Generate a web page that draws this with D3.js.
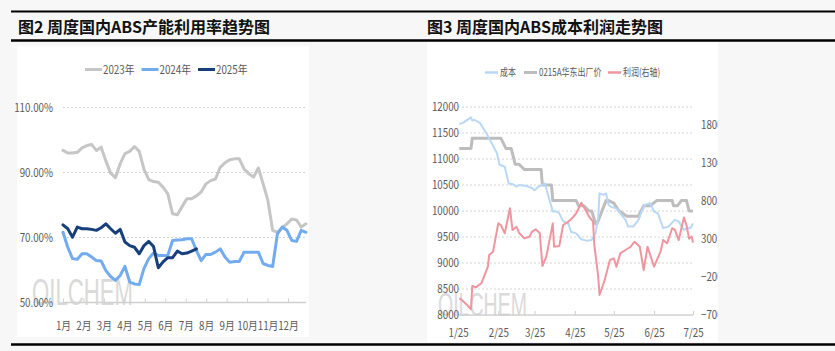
<!DOCTYPE html>
<html>
<head>
<meta charset="utf-8">
<script src="https://cdn.jsdelivr.net/npm/d3@7"></script>
<style>
body { margin: 0; background: #f7f7f7; }
svg text { font-family: "Noto Sans CJK SC", "Noto Sans", sans-serif; }
</style>
</head>
<body>
<svg id="chart" width="835" height="351"></svg>
<script>
// ---- left chart data: weekly ABS utilisation (%) ----
const months = ["1月", "2月", "3月", "4月", "5月", "6月", "7月", "8月", "9月", "10月", "11月", "12月"];
const pctTicks = [50, 70, 90, 110];
const years = ["2023年", "2024年", "2025年"];
const util2023 = [96.8, 96.0, 96.0, 96.2, 97.6, 98.3, 98.6, 96.8, 97.8, 93.5, 89.8, 88.4, 92.7, 95.8, 96.5, 98.0,
	96.5, 91.0, 87.8, 87.2, 87.0, 85.5, 83.4, 77.3, 77.0, 79.5, 81.9, 81.9, 82.8, 84.0, 86.5, 87.5, 88.0, 91.6,
	93.0, 93.9, 94.2, 94.2, 91.1, 89.6, 88.6, 91.4, 86.5, 81.4, 72.2, 71.6, 73.0, 74.2, 75.7, 75.4, 73.2, 74.2];
const util2024 = [71.6, 67.0, 63.5, 63.3, 65.0, 65.0, 64.0, 62.9, 62.8, 59.8, 58.0, 56.8, 58.3, 61.1, 56.3, 55.7,
	55.5, 60.5, 63.5, 65.2, 64.5, 64.5, 64.5, 69.1, 69.2, 69.3, 69.6, 69.6, 66.0, 62.9, 64.8, 64.8, 65.5, 66.5,
	64.0, 62.4, 62.6, 62.6, 65.5, 65.5, 65.5, 65.5, 62.0, 61.4, 61.1, 71.1, 73.2, 72.2, 69.1, 68.8, 72.2, 71.6];
const util2025 = [73.9, 72.7, 70.1, 73.2, 72.7, 72.7, 72.5, 72.2, 73.0, 74.2, 72.7, 71.3, 72.5, 68.6, 67.5, 67.0,
	65.0, 67.5, 68.8, 67.2, 60.7, 62.5, 63.8, 63.8, 65.8, 65.0, 65.2, 65.8, 66.5];

// ---- right chart data: cost, ex-works price (left axis), profit (right axis) ----
const seriesNames = ["成本", "0215A华东出厂价", "利润(右轴)"];
const priceTicks = [8000, 8500, 9000, 9500, 10000, 10500, 11000, 11500, 12000];
const profitTicks = [-700, -200, 300, 800, 1300, 1800];
const monthStarts = ["2025-01-01", "2025-02-01", "2025-03-01", "2025-04-01", "2025-05-01", "2025-06-01", "2025-07-01"];
const costSeries = [
	["2025-01-02", 11670], ["2025-01-05", 11700], ["2025-01-11", 11800], ["2025-01-12", 11740], ["2025-01-14", 11750],
	["2025-01-18", 11690], ["2025-01-23", 11490], ["2025-01-27", 11300], ["2025-01-31", 11110], ["2025-02-02", 10890],
	["2025-02-06", 10850], ["2025-02-09", 10530], ["2025-02-12", 10520], ["2025-02-15", 10470], ["2025-02-17", 10500],
	["2025-02-23", 10480], ["2025-02-27", 10440], ["2025-03-01", 10400], ["2025-03-04", 10470], ["2025-03-07", 10500],
	["2025-03-09", 10530], ["2025-03-11", 10340], ["2025-03-14", 10080], ["2025-03-15", 9990], ["2025-03-18", 9990],
	["2025-03-20", 9955], ["2025-03-23", 9800], ["2025-03-27", 9760], ["2025-03-29", 9600], ["2025-04-02", 9570],
	["2025-04-06", 9455], ["2025-04-10", 9430], ["2025-04-14", 9440], ["2025-04-17", 9570], ["2025-04-19", 9890],
	["2025-04-20", 10340], ["2025-04-23", 10310], ["2025-04-25", 10340], ["2025-04-27", 10115], ["2025-04-29", 10080],
	["2025-05-03", 10050], ["2025-05-06", 9955], ["2025-05-10", 9830], ["2025-05-12", 9700], ["2025-05-16", 9700],
	["2025-05-20", 9830], ["2025-05-23", 10020], ["2025-05-25", 10115], ["2025-05-29", 10150], ["2025-06-01", 9990],
	["2025-06-04", 9955], ["2025-06-08", 9670], ["2025-06-12", 9700], ["2025-06-17", 9830], ["2025-06-20", 9800],
	["2025-06-24", 9635], ["2025-06-26", 9670], ["2025-06-29", 9670], ["2025-07-01", 9760]
];
const priceSeries = [
	["2025-01-02", 11200], ["2025-01-11", 11200], ["2025-01-12", 11400], ["2025-02-03", 11400], ["2025-02-07", 11200],
	["2025-02-11", 11200], ["2025-02-14", 10900], ["2025-02-17", 10900], ["2025-02-21", 10800], ["2025-03-06", 10800],
	["2025-03-07", 10500], ["2025-03-14", 10500], ["2025-03-15", 10200], ["2025-04-02", 10200], ["2025-04-04", 10100],
	["2025-04-08", 10100], ["2025-04-12", 10000], ["2025-04-14", 10000], ["2025-04-17", 9750], ["2025-04-18", 9750],
	["2025-04-25", 10200], ["2025-04-27", 10200], ["2025-05-01", 10150], ["2025-05-05", 10000], ["2025-05-08", 9950],
	["2025-05-11", 9900], ["2025-05-20", 9900], ["2025-05-24", 10100], ["2025-05-29", 10100], ["2025-06-03", 10200],
	["2025-06-15", 10200], ["2025-06-16", 10100], ["2025-06-19", 10100], ["2025-06-22", 10200], ["2025-06-26", 10200],
	["2025-06-28", 10000], ["2025-07-01", 10000]
];
const profitSeries = [
	["2025-01-02", -481], ["2025-01-04", -503], ["2025-01-08", -569], ["2025-01-11", -625], ["2025-01-12", -319],
	["2025-01-15", -336], ["2025-01-17", -306], ["2025-01-19", -284], ["2025-01-22", -153], ["2025-01-24", -66],
	["2025-01-25", 87], ["2025-01-28", 131], ["2025-02-01", 503], ["2025-02-03", 481], ["2025-02-06", 372],
	["2025-02-10", 700], ["2025-02-12", 415], ["2025-02-15", 459], ["2025-02-17", 380], ["2025-02-21", 306],
	["2025-02-25", 328], ["2025-02-27", 393], ["2025-03-02", 424], ["2025-03-05", 372], ["2025-03-07", -57],
	["2025-03-10", 65], ["2025-03-15", 503], ["2025-03-16", 196], ["2025-03-20", 206], ["2025-03-23", 481],
	["2025-03-27", 525], ["2025-03-31", 590], ["2025-04-02", 634], ["2025-04-06", 774], ["2025-04-10", 656],
	["2025-04-12", 590], ["2025-04-15", 525], ["2025-04-16", 219], ["2025-04-19", -197], ["2025-04-20", -438],
	["2025-04-24", -241], ["2025-04-28", 22], ["2025-05-01", 44], ["2025-05-03", -66], ["2025-05-06", 109],
	["2025-05-10", 153], ["2025-05-14", 196], ["2025-05-17", 262], ["2025-05-21", 196], ["2025-05-24", -109],
	["2025-05-27", 196], ["2025-06-01", -66], ["2025-06-06", 131], ["2025-06-08", 284], ["2025-06-11", 241],
	["2025-06-15", 438], ["2025-06-17", 420], ["2025-06-20", 284], ["2025-06-24", 580], ["2025-06-26", 480],
	["2025-06-28", 300], ["2025-06-30", 330], ["2025-07-01", 250]
];

const labelColor = "#595959";
const gridColor = "#d4d4d4";
const squeeze = "scale(0.85,1)";

var svg = d3.select("#chart");
var parse = d3.timeParse("%Y-%m-%d");

// page frame
svg.append("rect").attr("width", 835).attr("height", 351).attr("fill", "#f7f7f7");
[[11.5, 2], [40.5, 2.5], [344.5, 2.5]].forEach(([y, w]) => {
	svg.append("line").attr("x1", 11).attr("x2", 835).attr("y1", y).attr("y2", y)
		.attr("stroke", "#000").attr("stroke-width", w);
});
svg.append("text").attr("x", 18).attr("y", 33).attr("font-size", "16px").attr("font-weight", 700)
	.attr("fill", "#111").text("图2 周度国内ABS产能利用率趋势图");
svg.append("text").attr("x", 427).attr("y", 33).attr("font-size", "16px").attr("font-weight", 700)
	.attr("fill", "#111").text("图3 周度国内ABS成本利润走势图");

function watermark(g, x, y, size, len) {
	g.append("text").attr("x", x).attr("y", y).attr("font-size", size + "px")
		.style("font-family", "'Liberation Sans', sans-serif")
		.attr("textLength", len).attr("lengthAdjust", "spacingAndGlyphs")
		.attr("fill", "#d2d2d2").attr("opacity", 0.8).text("OILCHEM");
}

function styleAxisText(g, fontSize) {
	g.select(".domain").remove();
	g.selectAll("text").attr("fill", labelColor).attr("font-size", fontSize).attr("transform", squeeze);
}

// ================= left chart =================
var left = svg.append("g");
left.append("rect").attr("x", 17).attr("y", 46).attr("width", 292).attr("height", 291).attr("fill", "#fff");

var x = d3.scaleLinear().domain([0, 51]).range([63, 306]);
var xm = d3.scalePoint().domain(months).range([63, 288]);
var y = d3.scaleLinear().domain([50, 110]).range([302.5, 107.5]);

watermark(left, 32, 305, 37, 101);

// grid
left.append("g").selectAll("line").data(pctTicks.slice(1)).enter().append("line")
	.attr("x1", 63).attr("x2", 306).attr("y1", (d) => y(d)).attr("y2", (d) => y(d))
	.attr("stroke", gridColor).attr("stroke-dasharray", "2,2");
left.append("line").attr("x1", 63).attr("x2", 306).attr("y1", y(50)).attr("y2", y(50))
	.attr("stroke", "#d0d0d0").attr("stroke-width", 1.5);
// month ticks (upward)
left.append("g").attr("transform", `translate(0,${y(50)})`)
	.call(d3.axisTop(xm).tickSize(4).tickFormat(""))
	.call((g) => g.select(".domain").remove())
	.selectAll("line").attr("stroke", "#d0d0d0");

var yAxisL = left.append("g").attr("transform", "translate(53,0)")
	.call(d3.axisLeft(y).tickValues(pctTicks).tickSize(0).tickPadding(0).tickFormat((d) => d.toFixed(2) + "%"));
styleAxisText(yAxisL, "11.5px");
yAxisL.selectAll("text").attr("x", 0);

var xAxisL = left.append("g").attr("transform", "translate(0,326)")
	.call(d3.axisBottom(xm).tickSize(0).tickPadding(0));
styleAxisText(xAxisL, "11.5px");
xAxisL.selectAll("text").attr("y", 0).attr("dy", "0.35em");

var yearColors = d3.scaleOrdinal().domain(years).range(["#c6c6c6", "#72acef", "#163f7c"]);
var line = d3.line().x((d, i) => x(i)).y((d) => y(d));
[util2023, util2024, util2025].forEach((series, i) => {
	left.append("path").datum(series).attr("d", line).attr("fill", "none")
		.attr("stroke", yearColors(years[i])).attr("stroke-width", 3)
		.attr("stroke-linejoin", "round").attr("stroke-linecap", "round");
});

// legend
years.forEach((yr, i) => {
	var row = left.append("g").attr("transform", `translate(${85 + i * 56.5},69.5)`);
	row.append("line").attr("x1", 0).attr("x2", 17).attr("stroke", yearColors(yr)).attr("stroke-width", 3);
	row.append("text").attr("x", 18 / 0.85).attr("dy", "0.35em").attr("transform", squeeze)
		.attr("font-size", "11.5px").attr("fill", labelColor).text(yr);
});

// ================= right chart =================
svg.append("clipPath").attr("id", "rightClip").append("rect")
	.attr("x", 427).attr("y", 42).attr("width", 291).attr("height", 300);
var right = svg.append("g").attr("clip-path", "url(#rightClip)");
right.append("rect").attr("x", 427).attr("y", 42).attr("width", 291).attr("height", 300).attr("fill", "#fff");

var xr = d3.scaleTime().domain([parse("2025-01-01"), parse("2025-07-01")]).range([458, 693]);
var yl = d3.scaleLinear().domain([8000, 12000]).range([315, 107]);
var yr = d3.scaleLinear().domain([-700, 2030]).range([315, 107]);

watermark(right, 438, 316, 33, 89);

right.append("g").selectAll("line").data(priceTicks.slice(1)).enter().append("line")
	.attr("x1", 458).attr("x2", 693).attr("y1", (d) => yl(d)).attr("y2", (d) => yl(d))
	.attr("stroke", gridColor).attr("stroke-dasharray", "2,2");
right.append("line").attr("x1", 458).attr("x2", 693).attr("y1", yl(8000)).attr("y2", yl(8000))
	.attr("stroke", "#d0d0d0").attr("stroke-width", 1.5);
right.append("g").attr("transform", `translate(0,${yl(8000)})`)
	.call(d3.axisTop(xr).tickValues(monthStarts.map(parse)).tickSize(4).tickFormat(""))
	.call((g) => g.select(".domain").remove())
	.selectAll("line").attr("stroke", "#d0d0d0");

var yAxisR1 = right.append("g").attr("transform", "translate(459,0)")
	.call(d3.axisLeft(yl).tickValues(priceTicks).tickSize(0).tickPadding(0).tickFormat(d3.format("d")));
styleAxisText(yAxisR1, "11.5px");
yAxisR1.selectAll("text").attr("x", 0);

var yAxisR2 = right.append("g").attr("transform", "translate(701,0)")
	.call(d3.axisRight(yr).tickValues(profitTicks).tickSize(0).tickPadding(0).tickFormat(d3.format("d")));
styleAxisText(yAxisR2, "11.5px");
yAxisR2.selectAll("text").attr("x", 0);

var xAxisR = right.append("g").attr("transform", "translate(0,333)")
	.call(d3.axisBottom(xr).tickValues(monthStarts.map(parse)).tickSize(0).tickPadding(0)
		.tickFormat(d3.timeFormat("%-m/%y")));
styleAxisText(xAxisR, "11.5px");
xAxisR.selectAll("text").attr("y", 0).attr("dy", "0.35em");

var seriesColors = d3.scaleOrdinal().domain(seriesNames).range(["#b9d7f6", "#bdbdbd", "#f0959f"]);
var lineL = d3.line().x((d) => xr(parse(d[0]))).y((d) => yl(d[1]));
var lineR = d3.line().x((d) => xr(parse(d[0]))).y((d) => yr(d[1]));
right.append("path").datum(priceSeries).attr("d", lineL).attr("fill", "none")
	.attr("stroke", seriesColors(seriesNames[1])).attr("stroke-width", 3).attr("stroke-linejoin", "round");
right.append("path").datum(costSeries).attr("d", lineL).attr("fill", "none")
	.attr("stroke", seriesColors(seriesNames[0])).attr("stroke-width", 2).attr("stroke-linejoin", "round");
right.append("path").datum(profitSeries).attr("d", lineR).attr("fill", "none")
	.attr("stroke", seriesColors(seriesNames[2])).attr("stroke-width", 2).attr("stroke-linejoin", "round");

var legendX = [485, 524, 608];
seriesNames.forEach((name, i) => {
	var row = right.append("g").attr("transform", `translate(${legendX[i]},72.5)`);
	row.append("line").attr("x1", 0).attr("x2", 13).attr("stroke", seriesColors(name))
		.attr("stroke-width", i === 1 ? 3 : 2.5);
	row.append("text").attr("x", 15 / 0.76).attr("dy", "0.35em").attr("transform", "scale(0.76,1)")
		.attr("font-size", "10.5px").attr("fill", labelColor).text(name);
});
</script>
</body>
</html>
